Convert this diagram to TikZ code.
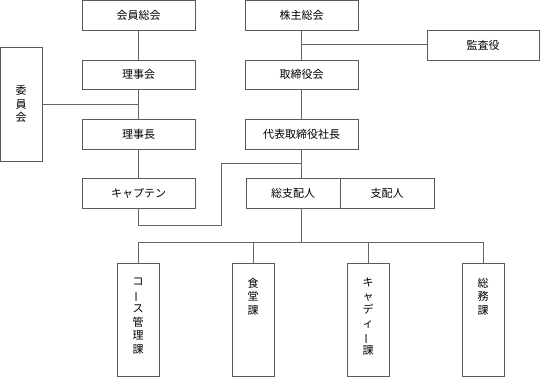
\documentclass[tikz,border=0pt]{standalone}
\usepackage{fontspec}
\usepackage{graphicx}
\setmainfont{Noto Sans CJK JP}
\usetikzlibrary{calc}
\tikzset{
  box/.style={draw=black!65, line width=0.8pt, fill=white, inner sep=0pt, font=\fontsize{11}{14}\selectfont},
  hbox/.style={box, minimum width=113pt, minimum height=30pt},
  vbox/.style={box, minimum width=42pt, minimum height=113pt},
  conn/.style={draw=black!60, line width=0.8pt},
  vtext/.style={anchor=north, align=center, inner sep=0pt, font=\fontsize{11}{13.6}\selectfont}
}
\newcommand\vbar{\rotatebox[origin=c]{90}{ー}}
\begin{document}
\begin{tikzpicture}[x=1pt,y=-1pt]
\useasboundingbox (0,0) rectangle (540,377);
% left column
\node[hbox] (kaiin) at (138.5,15.4) {会員総会};
\node[hbox, minimum height=29pt] (riji) at (138.5,74.5) {理事会};
\node[hbox] (rijicho) at (138.5,134) {理事長};
\node[hbox] (captain) at (138.5,193) {キャプテン};
\node[box, minimum width=41.5pt, minimum height=114pt] (iin) at (21.25,104) {};
\node[vtext, anchor=center] (iint) at (iin.center) {委\\員\\会};
% right column
\node[hbox] (kabu) at (301.5,15.4) {株主総会};
\node[hbox, minimum height=29pt] (tori) at (301.5,74.5) {取締役会};
\node[hbox] (daihyo) at (301.5,134) {代表取締役社長};
\node[hbox, minimum width=112pt] (kansa) at (483,45) {監査役};
\node[hbox, minimum width=94pt] (soshihai) at (293,193) {総支配人};
\node[hbox, minimum width=94pt] (shihai) at (387,193) {支配人};
% bottom boxes
\node[vbox] (course) at (138,319.5) {};
\node[vbox] (shoku) at (253,319.5) {};
\node[vbox] (caddie) at (368,319.5) {};
\node[vbox] (somu) at (483,319.5) {};
\node[vtext] (coursetxt) at ($(course.north)+(0,15)$) {コ\\\vbar\\ス\\管\\理\\課};
\node[vtext] (shokutxt) at ($(shoku.north)+(0,15)$) {食\\堂\\課};
\node[vtext] (caddietxt) at ($(caddie.north)+(0,15)$) {キ\\ャ\\デ\\ィ\\\vbar\\課};
\node[vtext] (somutxt) at ($(somu.north)+(0,15)$) {総\\務\\課};
% coordinates
\coordinate (iinj) at (138.5,104);
\coordinate (kansaj) at (301.5,44);
\coordinate (capj) at (301.5,163);
\coordinate (busc) at (301.5,242);
% connectors left
\draw[conn] (kaiin) -- (riji);
\draw[conn] (riji) -- (rijicho);
\draw[conn] (rijicho) -- (captain);
\draw[conn] (iin.east |- iinj) -- (iinj);
% connectors right
\draw[conn] (kabu) -- (tori);
\draw[conn] (kansaj) -- (kansa.west |- kansaj);
\draw[conn] (tori) -- (daihyo);
\draw[conn] (daihyo.south) -- (daihyo.south |- soshihai.north);
\draw[conn] (captain.south) -- (138.5,225) -- (221.5,225) -- (221.5,163) -- (capj);
\draw[conn] (daihyo.south |- soshihai.south) -- (busc);
\draw[conn] (course.north |- busc) -- (somu.north |- busc);
\draw[conn] (course.north |- busc) -- (course.north);
\draw[conn] (shoku.north |- busc) -- (shoku.north);
\draw[conn] (caddie.north |- busc) -- (caddie.north);
\draw[conn] (somu.north |- busc) -- (somu.north);
\end{tikzpicture}
\end{document}
